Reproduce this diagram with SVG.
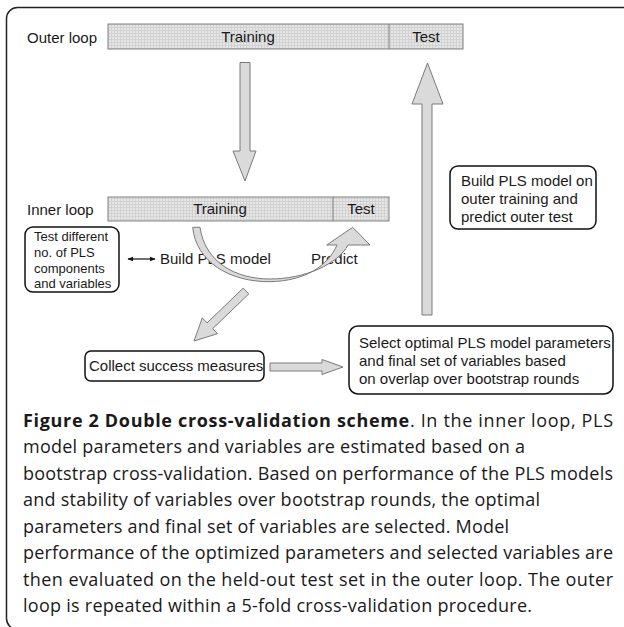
<svg xmlns="http://www.w3.org/2000/svg" width="624" height="627" viewBox="0 0 624 627">
<defs>
<pattern id="grid" width="3" height="3" patternUnits="userSpaceOnUse">
<rect width="3" height="3" fill="#e6e6e6"/>
<path d="M0 0.5H3M0.5 0V3" stroke="#d2d2d2" stroke-width="1"/>
</pattern>
<marker id="ah" viewBox="0 0 10 10" refX="9" refY="5" markerWidth="6" markerHeight="6" orient="auto-start-reverse" markerUnits="userSpaceOnUse">
<path d="M0 1L10 5L0 9Z" fill="#111"/>
</marker>
</defs>
<style>
.t{font-family:"Liberation Sans",Arial,sans-serif;fill:#1a1a1a}
.s15{font-size:15px}
.s13{font-size:13px}
.bar{fill:url(#grid);stroke:#808080;stroke-width:1}
.box{fill:#fff;stroke:#111;stroke-width:1.5}
.blk{fill:#dadada;stroke:#7a7a7a;stroke-width:1}
.cap{font-family:"Open Sans","Noto Sans",sans-serif;font-size:18px;fill:#1a1a1a}
</style>
<rect x="6.5" y="7.5" width="700" height="622" rx="11" fill="#fff" stroke="#222" stroke-width="1.5"/>

<g id="outer-loop">
<text class="t s15" x="27" y="43">Outer loop</text>
<rect class="bar" x="108" y="24" width="355" height="25"/>
<line x1="389" y1="24" x2="389" y2="49" stroke="#808080"/>
<text class="t s15" x="248" y="42" text-anchor="middle">Training</text>
<text class="t s15" x="426" y="42" text-anchor="middle">Test</text>
</g>

<g id="inner-loop">
<text class="t s15" x="27" y="215">Inner loop</text>
<rect class="bar" x="108" y="197" width="281" height="24"/>
<line x1="333" y1="197" x2="333" y2="221" stroke="#808080"/>
<text class="t s15" x="220" y="214" text-anchor="middle">Training</text>
<text class="t s15" x="361" y="214" text-anchor="middle">Test</text>
</g>

<g id="test-different">
<rect class="box" x="25" y="227" width="94" height="65" rx="8"/>
<text class="t s13" x="34" y="241">Test different</text>
<text class="t s13" x="34" y="257">no. of PLS</text>
<text class="t s13" x="34" y="273">components</text>
<text class="t s13" x="34" y="288">and variables</text>
</g>

<g id="build-pls">
<text class="t s15" x="160" y="264">Build PLS model</text>
</g>

<g id="predict">
<text class="t s15" x="311" y="264">Predict</text>
</g>

<g id="build-outer">
<rect class="box" x="450" y="166" width="146" height="63" rx="8"/>
<text class="t s15" x="461" y="186">Build PLS model on</text>
<text class="t s15" x="461" y="204">outer training and</text>
<text class="t s15" x="461" y="222">predict outer test</text>
</g>

<g id="collect">
<rect class="box" x="85" y="351" width="179" height="30" rx="6"/>
<text class="t s15" x="89" y="371">Collect success measures</text>
</g>

<g id="select">
<rect class="box" x="349" y="326" width="264" height="68" rx="9"/>
<text class="t s15" x="359" y="348">Select optimal PLS model parameters</text>
<text class="t s15" x="359" y="366">and final set of variables based</text>
<text class="t s15" x="359" y="384">on overlap over bootstrap rounds</text>
</g>

<g id="connectors">
<path class="blk" d="M240 62.5H250V151H256L245 181L233 151H240Z"/>
<path class="blk" d="M422 315V104H412L427.5 63L443 104H432V315Z"/>
<path class="blk" d="M192.7 227.3C196 262 230 282 270 281.7C305 281 328 266 337 245H326.7L352.7 227.3L370 245H348C338 264 305 279 270 279C235 279 205 262 200 227.3Z"/>
<path class="blk" d="M248.8 293.9L212.7 328.7L217.5 333.7L194 341L202.3 317.9L207.1 322.9L243.2 288.1Z"/>
<path class="blk" d="M270 363H322V359.5L343 367L322 374.5V371H270Z"/>
<line x1="128" y1="259" x2="155" y2="259" stroke="#111" stroke-width="1.2" marker-start="url(#ah)" marker-end="url(#ah)"/>
</g>

<g id="caption">
<text class="cap" x="23" y="427" textLength="590" lengthAdjust="spacing"><tspan font-weight="bold">Figure 2 Double cross-validation scheme</tspan>. In the inner loop, PLS</text>
<text class="cap" x="23" y="453" textLength="502" lengthAdjust="spacing">model parameters and variables are estimated based on a</text>
<text class="cap" x="23" y="480" textLength="590" lengthAdjust="spacing">bootstrap cross-validation. Based on performance of the PLS models</text>
<text class="cap" x="23" y="506" textLength="517" lengthAdjust="spacing">and stability of variables over bootstrap rounds, the optimal</text>
<text class="cap" x="23" y="533" textLength="486" lengthAdjust="spacing">parameters and final set of variables are selected. Model</text>
<text class="cap" x="23" y="559" textLength="590" lengthAdjust="spacing">performance of the optimized parameters and selected variables are</text>
<text class="cap" x="23" y="586" textLength="590" lengthAdjust="spacing">then evaluated on the held-out test set in the outer loop. The outer</text>
<text class="cap" x="23" y="612" textLength="509" lengthAdjust="spacing">loop is repeated within a 5-fold cross-validation procedure.</text>
</g>
</svg>
